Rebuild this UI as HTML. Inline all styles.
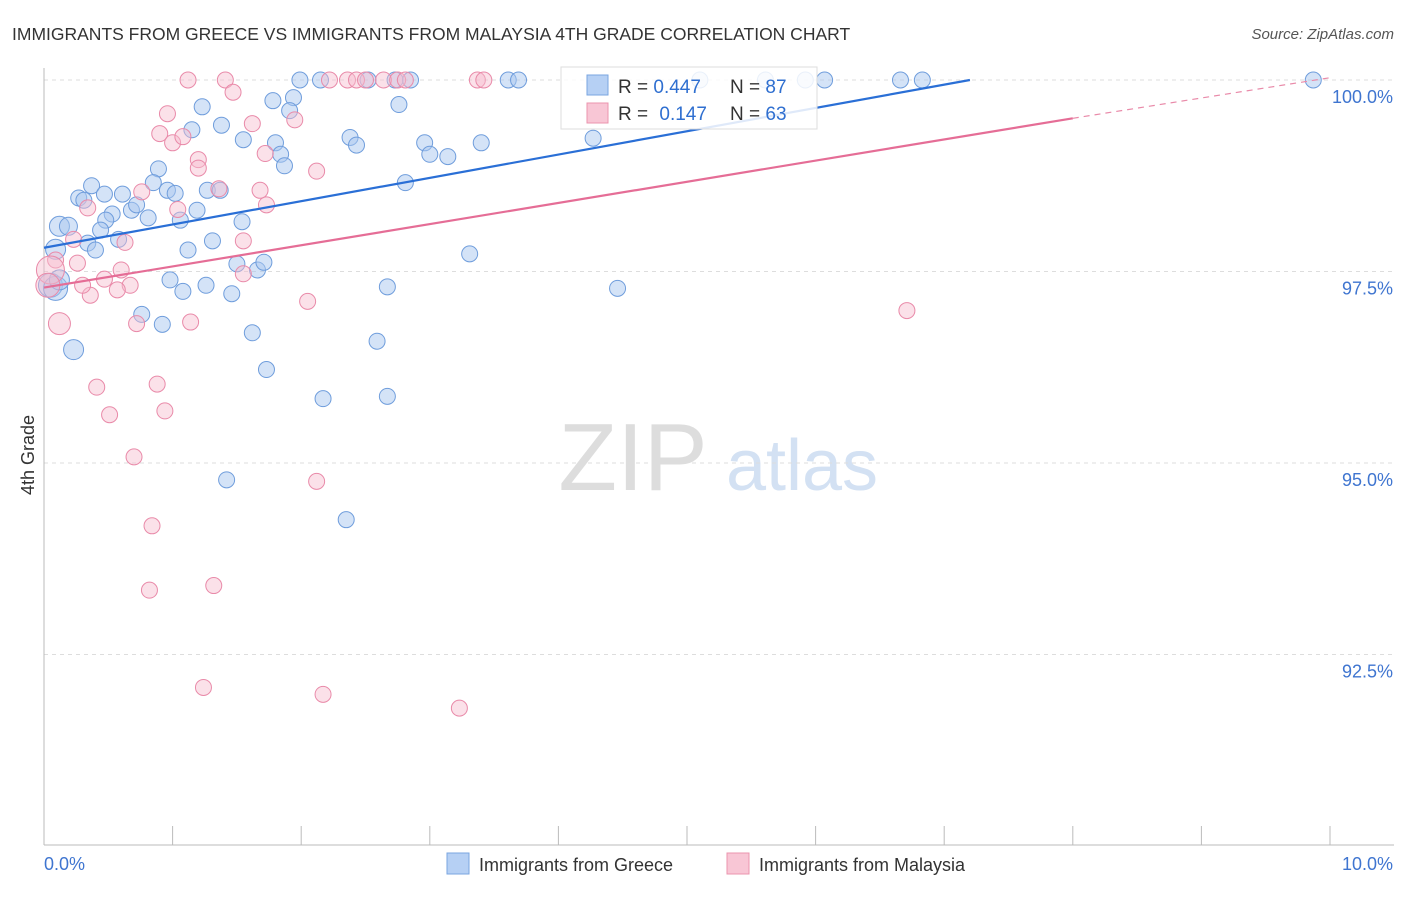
<!DOCTYPE html>
<html><head><meta charset="utf-8"><style>
body{margin:0;background:#fff;font-family:"Liberation Sans",sans-serif}
svg text{font-family:"Liberation Sans",sans-serif}
</style></head><body>
<svg width="1406" height="892" xmlns="http://www.w3.org/2000/svg">
<text x="12" y="40" font-size="17.5" fill="#333">IMMIGRANTS FROM GREECE VS IMMIGRANTS FROM MALAYSIA 4TH GRADE CORRELATION CHART</text>
<text x="1394" y="39" font-size="15" fill="#555" font-style="italic" text-anchor="end">Source: ZipAtlas.com</text>
<text x="34" y="455" font-size="18" fill="#333" text-anchor="middle" transform="rotate(-90 34 455)">4th Grade</text>
<g><text x="633" y="490" font-size="96" fill="#ddd" font-family="Liberation Serif" text-anchor="middle">ZIP</text><text x="802" y="490" font-size="72" fill="#d3e1f3" text-anchor="middle">atlas</text></g>
<g id="grid"></g><g id="axes"></g><g id="pts"></g><g id="trend"></g>
<g>
<rect x="561" y="67" width="256" height="62" fill="#fff" fill-opacity="0.85" stroke="#ddd"/>
<rect x="587" y="75" width="21" height="20" fill="#b6d0f4" stroke="#7aa6e0"/>
<rect x="587" y="103" width="21" height="20" fill="#f8c6d5" stroke="#eb94ae"/>
<text x="618" y="93" font-size="19" fill="#333">R = <tspan fill="#2f6fd0">0.447</tspan></text>
<text x="730" y="93" font-size="19" fill="#333">N = <tspan fill="#2f6fd0">87</tspan></text>
<text x="618" y="120" font-size="19" fill="#333">R = <tspan fill="#2f6fd0" dx="6">0.147</tspan></text>
<text x="730" y="120" font-size="19" fill="#333">N = <tspan fill="#2f6fd0">63</tspan></text>
</g>
<g>
<rect x="447" y="853" width="22" height="21" fill="#b6d0f4" stroke="#7aa6e0"/>
<text x="479" y="871" font-size="18" fill="#333">Immigrants from Greece</text>
<rect x="727" y="853" width="22" height="21" fill="#f8c6d5" stroke="#eb94ae"/>
<text x="759" y="871" font-size="18" fill="#333">Immigrants from Malaysia</text>
</g>
</svg>
<script>
const yTicks=[100,97.5,95,92.5];
const yTickLabels=["100.0%","97.5%","95.0%","92.5%"];
const xTickVals=[0,1,2,3,4,5,6,7,8,9,10];
const greeceX=[freeze=0][0]||[];
</script>
<script>
const gX=[1.99,2.15,2.52,2.73,2.85,3.61,3.69,5.1,5.61,5.92,6.07,6.66,6.83,9.87,1.23,1.78,1.94,1.91,2.76,1.15,1.38,1.55,1.8,1.84,1.87,2.38,2.43,2.96,3.0,3.14,3.4,4.27,0.89,0.37,0.27,0.47,0.61,0.85,0.96,1.02,1.27,1.37,1.19,0.31,0.68,0.72,0.53,0.48,0.81,1.06,1.54,2.81,0.12,0.19,0.44,0.09,0.34,0.4,0.58,1.12,1.31,3.31,1.5,1.66,1.71,0.98,1.08,1.26,1.46,2.67,4.46,0.76,0.92,1.62,2.59,0.23,1.73,2.17,2.67,1.42,2.35,0.05,0.09,0.12];
const gY=[100,100,100,100,100,100,100,100,100,100,100,100,100,100,99.65,99.73,99.77,99.6,99.68,99.35,99.41,99.22,99.18,99.03,98.88,99.25,99.15,99.18,99.03,99.0,99.18,99.24,98.84,98.62,98.46,98.51,98.51,98.66,98.56,98.52,98.56,98.56,98.3,98.43,98.3,98.37,98.25,98.17,98.2,98.17,98.15,98.66,98.09,98.09,98.04,97.79,97.87,97.78,97.92,97.78,97.9,97.73,97.6,97.52,97.62,97.39,97.24,97.32,97.21,97.3,97.28,96.94,96.81,96.7,96.59,96.48,96.22,95.84,95.87,94.78,94.26,97.32,97.28,97.39];
const gR=[8,8,8,8,8,8,8,8,8,8,8,8,8,8,8,8,8,8,8,8,8,8,8,8,8,8,8,8,8,8,8,8,8,8,8,8,8,8,8,8,8,8,8,8,8,8,8,8,8,8,8,8,10,9,8,10,8,8,8,8,8,8,8,8,8,8,8,8,8,8,8,8,8,8,8,10,8,8,8,8,8,12,12,10];
const mX=[1.12,1.41,2.22,2.36,2.43,2.5,2.64,2.75,2.81,3.37,3.42,0.96,1.47,0.9,1.0,1.08,1.95,1.62,1.2,1.2,1.72,2.12,1.68,0.76,1.36,1.73,0.34,1.04,0.23,0.63,1.55,0.09,0.26,0.6,0.47,0.67,0.57,0.36,0.3,1.55,0.05,0.03,2.05,0.72,1.14,0.12,6.71,0.41,0.88,0.51,0.94,0.7,2.12,0.84,1.32,0.82,1.24,2.17,3.23];
const mY=[100,100,100,100,100,100,100,100,100,100,100,99.56,99.84,99.3,99.18,99.26,99.48,99.43,98.96,98.85,99.04,98.81,98.56,98.54,98.58,98.37,98.33,98.31,97.92,97.88,97.9,97.65,97.61,97.52,97.4,97.32,97.26,97.19,97.32,97.47,97.52,97.32,97.11,96.82,96.84,96.82,96.99,95.99,96.03,95.63,95.68,95.08,94.76,94.18,93.4,93.34,92.07,91.98,91.8];
const mR=[8,8,8,8,8,8,8,8,8,8,8,8,8,8,8,8,8,8,8,8,8,8,8,8,8,8,8,8,8,8,8,8,8,8,8,8,8,8,8,8,14,12,8,8,8,11,8,8,8,8,8,8,8,8,8,8,8,8,8];
const NS="http://www.w3.org/2000/svg";
const X=v=>44+v*128.6, Y=v=>80+(100-v)*76.6;
function mk(p,t,a){const e=document.createElementNS(NS,t);for(const k in a)e.setAttribute(k,a[k]);document.getElementById(p).appendChild(e);return e;}
yTicks.forEach((t,i)=>{const l=mk('grid','line',{x1:44,x2:1394,y1:Y(t),y2:Y(t),stroke:'#ddd','stroke-dasharray':'4 4'});


const tx=mk('grid','text',{x:1393,y:Y(t)+23,'font-size':18,fill:'#3f75d0','text-anchor':'end'});tx.textContent=yTickLabels[i];

});
mk('axes','line',{x1:44,x2:44,y1:68,y2:845,stroke:'#bbb'});
mk('axes','line',{x1:44,x2:1394,y1:845,y2:845,stroke:'#bbb'});
xTickVals.forEach(v=>{const l=mk('axes','line',{x1:X(v),x2:X(v),y1:826,y2:845,stroke:'#bbb'});

});
const a=mk('axes','text',{x:44,y:870,'font-size':18,fill:'#3f75d0'});a.textContent='0.0%';
const b=mk('axes','text',{x:1393,y:870,'font-size':18,fill:'#3f75d0','text-anchor':'end'});b.textContent='10.0%';
gX.forEach((v,i)=>{const c=mk('pts','circle',{cx:X(v),cy:Y(gY[i]),r:gR[i],fill:'#a9c7f0','fill-opacity':0.5,stroke:'#6f9ddc','stroke-width':1});

});
mX.forEach((v,i)=>{const c=mk('pts','circle',{cx:X(v),cy:Y(mY[i]),r:mR[i],fill:'#f7bccf','fill-opacity':0.45,stroke:'#e98aa9','stroke-width':1});

});
const t1=mk('trend','line',{x1:X(0),y1:Y(97.81),x2:X(7.2),y2:Y(100),stroke:'#2a6fd6','stroke-width':2.2});


const t2=mk('trend','line',{x1:X(0),y1:Y(97.29),x2:X(8),y2:Y(99.5),stroke:'#e56d96','stroke-width':2.2});


const t3=mk('trend','line',{x1:X(8),y1:Y(99.5),x2:X(10),y2:Y(100.03),stroke:'#e98aa9','stroke-width':1.2,'stroke-dasharray':'6 5'});


</script>
</body></html>
